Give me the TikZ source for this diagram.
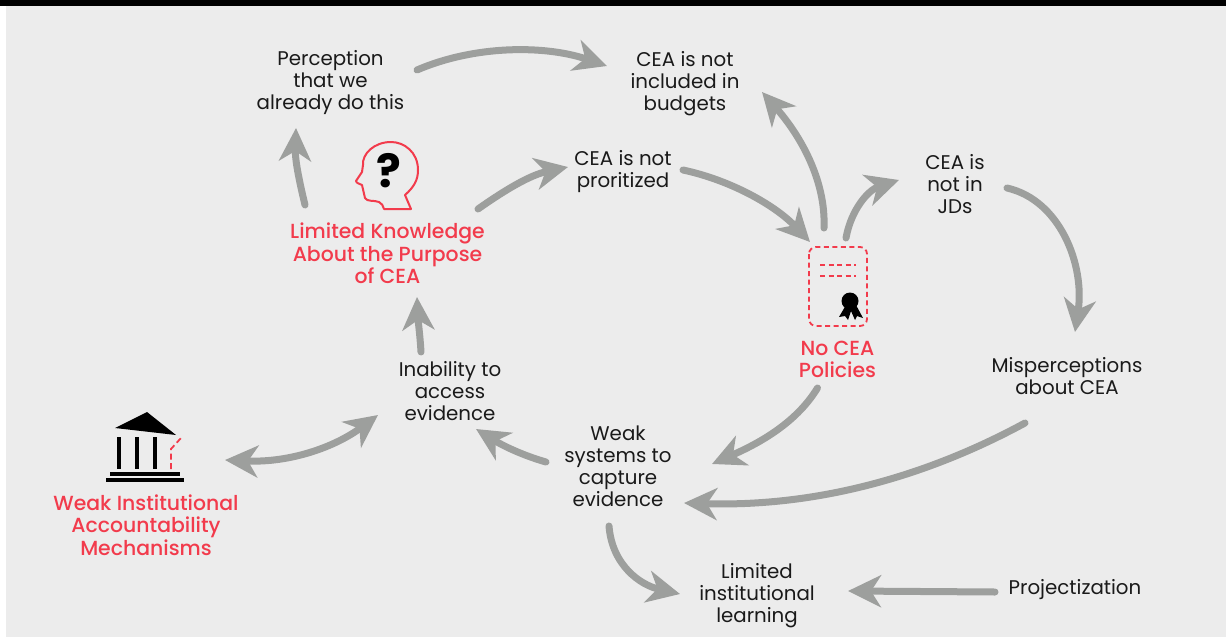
\documentclass[tikz,border=0pt]{standalone}
\usepackage{fontspec}
\setmainfont{Poppins}
\newfontfamily\medf{Poppins Medium}
\usetikzlibrary{arrows.meta}
\definecolor{bgc}{HTML}{ECECEC}
\definecolor{redc}{HTML}{F23B4C}
\definecolor{txt}{HTML}{1A1A1A}
\definecolor{arr}{HTML}{9D9F9D}
\tikzset{
 lab/.style={align=center,inner sep=0pt,font=\fontsize{19.8}{22}\selectfont,text=txt},
 redlab/.style={align=center,inner sep=0pt,font=\medf\fontsize{20.4}{22.3}\selectfont,text=redc},
 conn/.style={draw=arr,line width=7pt,line cap=round,-{Stealth[length=33pt,width=32pt,inset=10pt]}},
 conn2/.style={conn,{Stealth[length=33pt,width=32pt,inset=10pt]}-{Stealth[length=33pt,width=32pt,inset=10pt]}},
 dashred/.style={draw=redc,line width=1.8pt,dash pattern=on 5pt off 3.5pt},
}
\begin{document}
\begin{tikzpicture}[x=1pt,y=-1pt]
\useasboundingbox (0,0) rectangle (1226,637);
\fill[white] (0,0) rectangle (1226,637);
\fill[bgc] (6,0) rectangle (1226,637);
\fill[black] (0,0) rectangle (1226,6);
\node[lab] (perc) at (330.5,83) {Perception\\that we\\already do this};
\node[lab] (budg) at (685,84) {CEA is not\\included in\\budgets};
\node[lab] (prio) at (623,172) {CEA is not\\proritized};
\node[lab] (jds) at (955,184) {CEA is\\not in\\JDs};
\node[redlab] (know) at (387.5,253.5) {Limited Knowledge\\About the Purpose\\of CEA};
\node[redlab] (nocea) at (837.5,359.5) {No CEA\\Policies};
\node[lab] (misp) at (1067,376) {Misperceptions\\about CEA};
\node[lab] (inab) at (450,391) {Inability to\\access\\evidence};
\node[lab] (weak) at (618,466) {Weak\\systems to\\capture\\evidence};
\node[redlab] (wiam) at (146,525) {Weak Institutional\\Accountability\\Mechanisms};
\node[lab] (limi) at (757,595.5) {Limited\\institutional\\learning};
\node[lab] (proj) at (1075,590) {Projectization};
% head icon
\node[inner sep=0pt,minimum width=60pt,minimum height=70pt] (headicon) at (388,176) {};
\draw[redc,line width=2pt,line join=round] (384,209) -- (411,209) -- (405,195)
 .. controls (414,187) and (418,180) .. (418,170)
 .. controls (418,152) and (404,142) .. (391,142)
 .. controls (374,142) and (362,154) .. (363,165)
 -- (362,172) -- (356,181) .. controls (356,183) and (360,184) .. (362,185)
 -- (365,198) .. controls (367,202) and (374,200) .. (379,202)
 .. controls (382,203) and (383,206) .. (384,209) -- cycle;
\node[inner sep=0pt,font=\fontsize{46}{46}\selectfont\bfseries,text=black] (qm) at (389,171) {?};
% certificate icon
\draw[dashred,rounded corners=7pt] (809,247) rectangle (867,326);
\node[inner sep=0pt,minimum width=58pt,minimum height=79pt] (certicon) at (838,286.5) {};
\draw[dashred] (820,265) -- (856,265);
\draw[dashred] (820,276) -- (856,276);
\fill[black] (846,305) -- (839,317) -- (845,316) -- (848,320) -- (851,311) -- (855,320) -- (857,316) -- (863,318) -- (856,305) -- cycle;
\fill[black] (850,301) circle (8.5pt);
% bank icon
\fill[black] (115,428) -- (147,412) -- (176,435) -- cycle;
\fill[black] (117,437) rectangle (121,469);
\fill[black] (135,437) rectangle (139,469);
\fill[black] (153,437) rectangle (157,469);
\fill[black] (110,472) rectangle (180,476);
\fill[black] (106,478) rectangle (184,482);
\draw[redc,line width=1.8pt,dash pattern=on 6pt off 3.5pt] (171,469) -- (171,449) -- (181,438);
\node[inner sep=0pt,minimum width=78pt,minimum height=70pt] (bank) at (145,447) {};
% connectors
\draw[conn] ([shift={(86.5,-13)}]perc.center) .. controls (475,45) and (545,45) .. ([shift={(-78,-18)}]budg.center);
\draw[conn] ([shift={(-25.5,122)}]perc.center) .. controls (299,180) and (295,160) .. ([shift={(-34.5,45)}]perc.center);
\draw[conn] ([shift={(90.5,-44.5)}]know.center) .. controls (505,190) and (530,175) .. ([shift={(-55,-5)}]prio.center);
\draw[conn] ([shift={(60,-2)}]prio.center) .. controls (730,180) and (775,205) .. ([shift={(-28,-44.5)}]certicon.center);
\draw[conn] ([shift={(-14,-58.5)}]certicon.center) .. controls (826,180) and (800,135) .. ([shift={(77,8)}]budg.center);
\draw[conn] ([shift={(8,-48.5)}]certicon.center) .. controls (851,210) and (868,190) .. ([shift={(-56,-4)}]jds.center);
\draw[conn] ([shift={(52,4)}]jds.center) .. controls (1060,200) and (1085,265) .. ([shift={(8,-44)}]misp.center);
\draw[conn] ([shift={(-20,28.5)}]nocea.center) .. controls (795,425) and (755,445) .. ([shift={(94,-2)}]weak.center);
\draw[conn] ([shift={(-42,47)}]misp.center) .. controls (920,480) and (810,507) .. ([shift={(66,37)}]weak.center);
\draw[conn] ([shift={(-72,-4)}]weak.center) .. controls (525,456) and (505,447) .. ([shift={(26,38)}]inab.center);
\draw[conn] ([shift={(-29,-39)}]inab.center) .. controls (420,335) and (418,320) .. ([shift={(29.5,43.5)}]know.center);
\draw[conn] ([shift={(-9,60)}]weak.center) .. controls (612,565) and (640,585) .. ([shift={(-77,-1.5)}]limi.center);
\draw[conn] ([shift={(-80,2)}]proj.center) -- ([shift={(91,-4.5)}]limi.center);
\draw[conn2] ([shift={(80,13)}]bank.center) .. controls (290,463) and (335,447) .. ([shift={(-72,24)}]inab.center);
\end{tikzpicture}
\end{document}
